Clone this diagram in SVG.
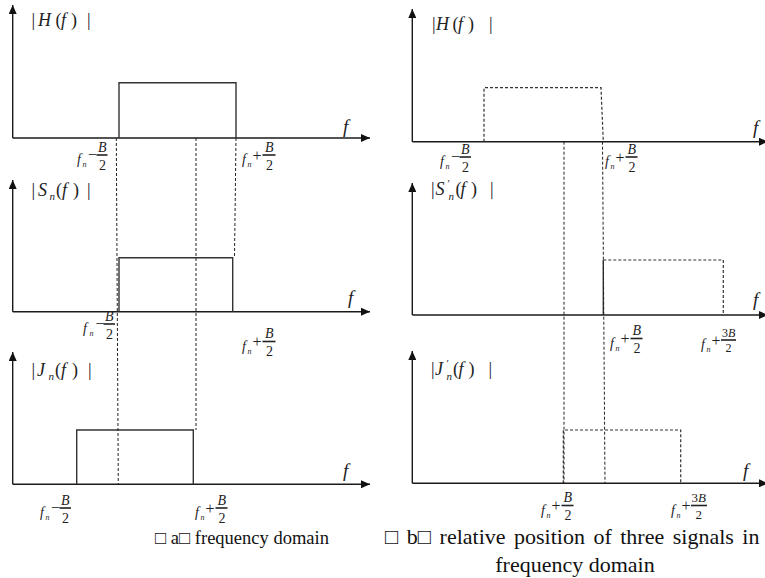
<svg xmlns="http://www.w3.org/2000/svg" width="765" height="578" viewBox="0 0 765 578">
<defs>
<marker id="ar" markerUnits="userSpaceOnUse" markerWidth="10" markerHeight="8" refX="9" refY="4" orient="auto">
<path d="M0,0 L9,4 L0,8 z" fill="#111"/>
</marker>
<style>
.ax{stroke:#1a1a1a;stroke-width:1.4;fill:none;marker-end:url(#ar)}
.sq{stroke:#333;stroke-width:1.4;fill:none}
.dq{stroke:#333;stroke-width:1.2;fill:none;stroke-dasharray:3 2}
.dl{stroke:#222;stroke-width:1;fill:none;stroke-dasharray:3 2}
text{font-family:"Liberation Serif","Times New Roman",serif;fill:#222}
.it{font-style:italic}
.yl{font-size:18px}
.ys{font-size:11px;font-style:italic}
.pr{font-size:11px;font-style:normal}
.af{font-size:19px;font-style:italic}
.lb{font-size:14px}
.ls{font-size:8px;font-style:italic}
.sg{font-size:16px;font-style:normal}
.bar{stroke:#222;stroke-width:1.6}
.cap{fill:#111}
</style>
</defs>
<rect width="765" height="578" fill="#fff"/>

<g id="panel-a">
  <g id="a-H">
    <path class="ax" d="M12.7,138 V5"/>
    <path class="ax" d="M12.7,138 H370"/>
    <path class="sq" d="M119,138 V82.7 H236 V138"/>
    <text class="yl" y="26"><tspan x="31.5">|</tspan><tspan class="it" x="38">H</tspan><tspan x="55.5">(</tspan><tspan class="it" x="61">f</tspan><tspan x="71">)</tspan><tspan x="87">|</tspan></text>
    <text class="af" x="343" y="133">f</text>
  </g>
  <g id="a-S">
    <path class="ax" d="M12.7,311.7 V180"/>
    <path class="ax" d="M12.7,311.7 H370"/>
    <path class="sq" d="M119,311.7 V257.7 H232.7 V311.7"/>
    <text class="yl" y="196"><tspan x="31.5">|</tspan><tspan class="it" x="38">S</tspan><tspan class="ys" x="49.5" y="200">n</tspan><tspan x="56" y="196">(</tspan><tspan class="it" x="62">f</tspan><tspan x="73">)</tspan><tspan x="87">|</tspan></text>
    <text class="af" x="348" y="304">f</text>
  </g>
  <g id="a-J">
    <path class="ax" d="M12.7,484.3 V352"/>
    <path class="ax" d="M12.7,484.3 H370"/>
    <path class="sq" d="M76.7,484.3 V430 H193.3 V484.3"/>
    <text class="yl" y="376"><tspan x="31.5">|</tspan><tspan class="it" x="37">J</tspan><tspan class="ys" x="48.5" y="380">n</tspan><tspan x="55" y="376">(</tspan><tspan class="it" x="61">f</tspan><tspan x="72">)</tspan><tspan x="88">|</tspan></text>
    <text class="af" x="343" y="477">f</text>
  </g>
  <g id="a-labels">
    <g transform="translate(77,155)"><line class="bar" x1="19.5" y1="0" x2="30.5" y2="0"/><text class="lb"><tspan class="it" x="0" y="9">f</tspan><tspan class="ls" x="5.5" y="12">n</tspan><tspan class="sg" x="11" y="5">−</tspan><tspan class="it" x="21" y="-3.5">B</tspan><tspan x="22" y="14.5">2</tspan></text></g>
    <g transform="translate(242,155)"><line class="bar" x1="20.5" y1="0" x2="33.5" y2="0"/><text class="lb"><tspan class="it" x="0" y="9">f</tspan><tspan class="ls" x="5.5" y="12">n</tspan><tspan class="sg" x="10.5" y="5.5">+</tspan><tspan class="it" x="23" y="-3.5">B</tspan><tspan x="24" y="14.5">2</tspan></text></g>
    <g transform="translate(83,324)"><line class="bar" x1="20.5" y1="0" x2="32" y2="0"/><text class="lb"><tspan class="it" x="0" y="9">f</tspan><tspan class="ls" x="6.5" y="12">n</tspan><tspan class="sg" x="12.5" y="5">−</tspan><tspan class="it" x="22" y="-3.5">B</tspan><tspan x="23" y="14.5">2</tspan></text></g>
    <g transform="translate(242,341.5)"><line class="bar" x1="20.5" y1="0" x2="33.5" y2="0"/><text class="lb"><tspan class="it" x="0" y="9">f</tspan><tspan class="ls" x="5.5" y="12">n</tspan><tspan class="sg" x="10.5" y="5.5">+</tspan><tspan class="it" x="23" y="-3.5">B</tspan><tspan x="24" y="14.5">2</tspan></text></g>
    <g transform="translate(40,508)"><line class="bar" x1="19.5" y1="0" x2="31" y2="0"/><text class="lb"><tspan class="it" x="0" y="9">f</tspan><tspan class="ls" x="5.5" y="12">n</tspan><tspan class="sg" x="11" y="5">−</tspan><tspan class="it" x="21" y="-3.5">B</tspan><tspan x="22" y="14.5">2</tspan></text></g>
    <g transform="translate(195,508)"><line class="bar" x1="20.5" y1="0" x2="32.5" y2="0"/><text class="lb"><tspan class="it" x="0" y="9">f</tspan><tspan class="ls" x="5.5" y="12">n</tspan><tspan class="sg" x="10.5" y="5.5">+</tspan><tspan class="it" x="22.5" y="-3.5">B</tspan><tspan x="23.5" y="14.5">2</tspan></text></g>
  </g>
</g>

<g id="panel-b">
  <g id="b-H">
    <path class="ax" d="M412.3,141.7 V9"/>
    <path class="ax" d="M412.3,141.7 H768"/>
    <path class="dq" d="M484,141.7 V87.7 H601 L603.3,141.7"/>
    <text class="yl" y="30"><tspan x="432">|</tspan><tspan class="it" x="436">H</tspan><tspan x="452.5">(</tspan><tspan class="it" x="458">f</tspan><tspan x="468">)</tspan><tspan x="489">|</tspan></text>
    <text class="af" x="753" y="134">f</text>
  </g>
  <g id="b-S">
    <path class="ax" d="M412.3,315 V183"/>
    <path class="ax" d="M412.3,315 H768"/>
    <path class="sq" d="M603.3,315 V260"/>
    <path class="dq" d="M603.3,260 H723.3 V315"/>
    <text class="yl" y="195"><tspan x="431">|</tspan><tspan class="it" x="435.5">S</tspan><tspan class="pr" x="447.5" y="187">′</tspan><tspan class="ys" x="448.5" y="200">n</tspan><tspan x="455.5" y="195">(</tspan><tspan class="it" x="460.5">f</tspan><tspan x="471">)</tspan><tspan x="490">|</tspan></text>
    <text class="af" x="753" y="306">f</text>
  </g>
  <g id="b-J">
    <path class="ax" d="M412.3,483.3 V351"/>
    <path class="ax" d="M412.3,483.3 H768"/>
    <path class="dq" d="M563.3,483.3 V430 H680.7 V483.3"/>
    <text class="yl" y="375"><tspan x="431">|</tspan><tspan class="it" x="435">J</tspan><tspan class="pr" x="446.5" y="367">′</tspan><tspan class="ys" x="446.5" y="380">n</tspan><tspan x="453" y="375">(</tspan><tspan class="it" x="458.5">f</tspan><tspan x="468.5">)</tspan><tspan x="488.5">|</tspan></text>
    <text class="af" x="743" y="477">f</text>
  </g>
  <g id="b-labels">
    <g transform="translate(440,157)"><line class="bar" x1="19.5" y1="0" x2="31" y2="0"/><text class="lb"><tspan class="it" x="0" y="9">f</tspan><tspan class="ls" x="5.5" y="12">n</tspan><tspan class="sg" x="11" y="5">−</tspan><tspan class="it" x="21" y="-3.5">B</tspan><tspan x="22" y="14.5">2</tspan></text></g>
    <g transform="translate(605,157)"><line class="bar" x1="20.5" y1="0" x2="32.5" y2="0"/><text class="lb"><tspan class="it" x="0" y="9">f</tspan><tspan class="ls" x="5.5" y="12">n</tspan><tspan class="sg" x="10.5" y="5.5">+</tspan><tspan class="it" x="22.5" y="-3.5">B</tspan><tspan x="23.5" y="14.5">2</tspan></text></g>
    <g transform="translate(610,338.5)"><line class="bar" x1="20.5" y1="0" x2="32.5" y2="0"/><text class="lb"><tspan class="it" x="0" y="9">f</tspan><tspan class="ls" x="5.5" y="12">n</tspan><tspan class="sg" x="10.5" y="5.5">+</tspan><tspan class="it" x="22.5" y="-3.5">B</tspan><tspan x="23.5" y="14.5">2</tspan></text></g>
    <g transform="translate(701,340)"><line class="bar" x1="20" y1="0" x2="35" y2="0" stroke-width="1.3"/><text class="lb"><tspan class="it" x="0" y="9">f</tspan><tspan class="ls" x="5.5" y="12">n</tspan><tspan class="sg" x="10.5" y="5.5">+</tspan><tspan x="21" y="-3" font-size="12">3</tspan><tspan class="it" font-size="12">B</tspan><tspan x="24.5" y="11.5" font-size="12">2</tspan></text></g>
    <g transform="translate(541,505.5)"><line class="bar" x1="20.5" y1="0" x2="32.5" y2="0"/><text class="lb"><tspan class="it" x="0" y="9">f</tspan><tspan class="ls" x="5.5" y="12">n</tspan><tspan class="sg" x="10.5" y="5.5">+</tspan><tspan class="it" x="22.5" y="-3.5">B</tspan><tspan x="23.5" y="14.5">2</tspan></text></g>
    <g transform="translate(671,505.5)"><line class="bar" x1="20" y1="0" x2="36" y2="0" stroke-width="1.3"/><text class="lb"><tspan class="it" x="0" y="9">f</tspan><tspan class="ls" x="5.5" y="12">n</tspan><tspan class="sg" x="10.5" y="5.5">+</tspan><tspan x="20.5" y="-3.5" font-size="13">3</tspan><tspan class="it" font-size="13">B</tspan><tspan x="24.5" y="13" font-size="13">2</tspan></text></g>
  </g>
</g>

<g id="connectors">
  <path class="dl" d="M116.3,138 L118.3,484.3"/>
  <path class="dl" d="M196,138 V430"/>
  <path class="dl" d="M236,138 L234.5,257.7"/>
  <path class="dl" d="M564,141.7 V483.3"/>
  <path class="dl" d="M602.5,141.7 L605,483.3"/>
</g>

<g id="captions">
  <text class="cap" x="155" y="544" font-size="18.5">□ a□ frequency domain</text>
  <text class="cap" x="385" y="544" font-size="22" word-spacing="3">□ b□ relative position of three signals in</text>
  <text class="cap" x="575" y="572" font-size="22" text-anchor="middle">frequency domain</text>
</g>
</svg>
